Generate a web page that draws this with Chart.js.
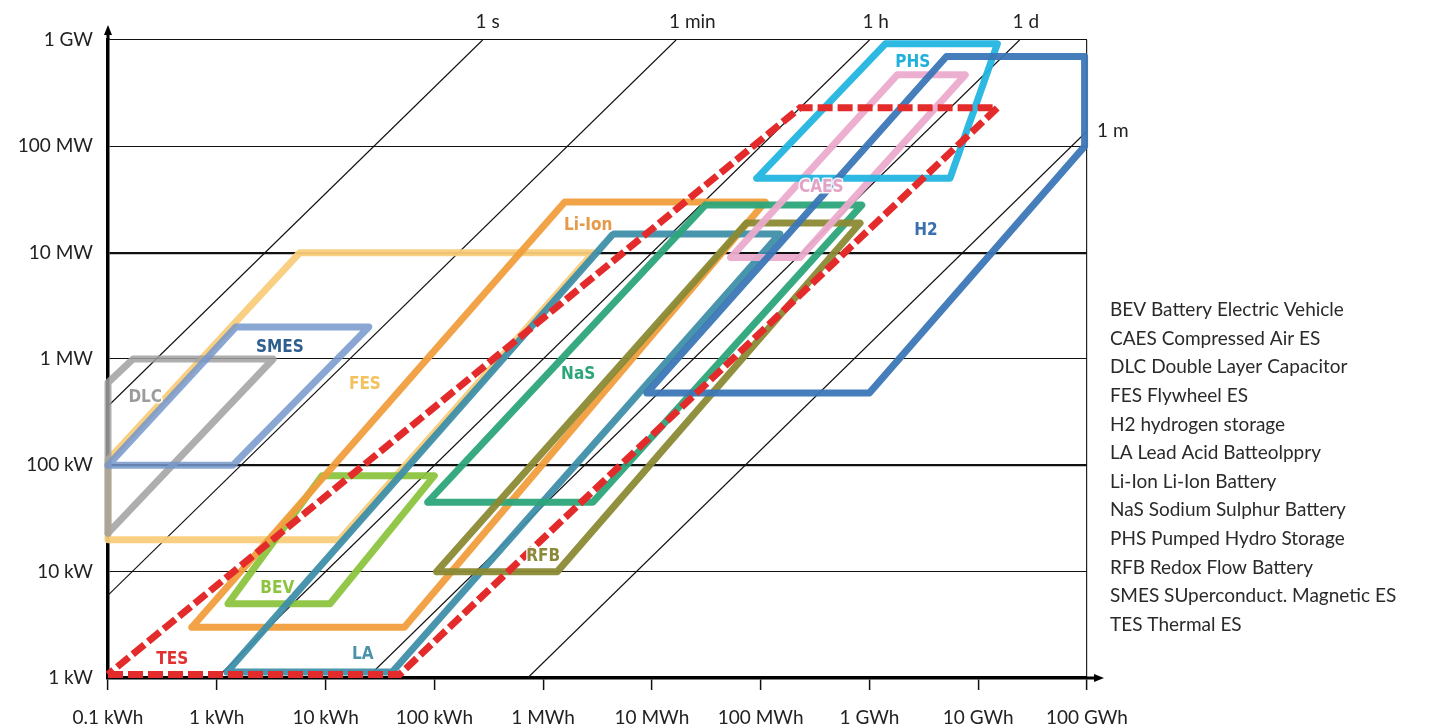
<!DOCTYPE html>
<html>
<head>
<meta charset="utf-8">
<script src="https://cdn.jsdelivr.net/npm/chart.js@4.4.1/dist/chart.umd.min.js"></script>
<style>
  html, body { margin: 0; padding: 0; background: #fff; }
  #wrap { width: 1439px; height: 727px; }
</style>
</head>
<body>
<div id="wrap"><canvas id="chart" width="1439" height="727"></canvas></div>
<script>
// axes (energy in kWh, power in kW)
const xTickValues = [0.1, 1, 10, 1e2, 1e3, 1e4, 1e5, 1e6, 1e7, 1e8];
const xTickLabels = ['0.1 kWh', '1 kWh', '10 kWh', '100 kWh', '1 MWh', '10 MWh', '100 MWh', '1 GWh', '10 GWh', '100 GWh'];
const yTickValues = [1, 10, 100, 1e3, 1e4, 1e5, 1e6];
const yTickLabels = ['1 kW', '10 kW', '100 kW', '1 MW', '10 MW', '100 MW', '1 GW'];

// discharge time lines (hours)
const timeLabels = ['1 s', '1 min', '1 h', '1 d', '1 m'];
const timeHours = [1 / 3600, 1 / 60, 1, 24, 720];

// technology outlines
const dlcEnergy = [0.1, 3.3, 0.17, 0.1];
const dlcPower = [23, 1000, 1000, 600];
const smesEnergy = [0.1, 1.5, 25, 1.4];
const smesPower = [100, 2000, 2000, 100];
const fesEnergy = [0.1, 0.1, 5.8, 2900, 13.5];
const fesPower = [20, 112, 10000, 10000, 20];
const bevEnergy = [1.27, 11, 100, 9.3];
const bevPower = [5, 5, 80, 80];
const liIonEnergy = [0.59, 53, 110000, 1580];
const liIonPower = [3, 3, 30000, 30000];
const laEnergy = [1.24, 41, 150000, 4400];
const laPower = [1.14, 1.14, 15000, 15000];
const tesEnergy = [0.1, 48, 1.5e7, 230000];
const tesPower = [1.08, 1.08, 230000, 230000];
const nasEnergy = [87, 2870, 850000, 31000];
const nasPower = [45, 45, 28000, 28000];
const rfbEnergy = [105, 1350, 820000, 74000];
const rfbPower = [10, 10, 19000, 19000];
const caesEnergy = [53000, 230000, 7.6e6, 1.8e6];
const caesPower = [9000, 9000, 470000, 470000];
const phsEnergy = [92000, 5.5e6, 1.5e7, 1.4e6];
const phsPower = [50000, 50000, 920000, 920000];
const h2Energy = [9000, 1e6, 9.5e7, 9.5e7, 5.1e6];
const h2Power = [480, 480, 100000, 700000, 700000];

// in-plot labels
const techNames = ['DLC', 'SMES', 'FES', 'BEV', 'Li-Ion', 'LA', 'TES', 'NaS', 'RFB', 'CAES', 'PHS', 'H2'];
const labelEnergy = [0.22, 3.8, 23, 3.6, 2600, 22, 0.39, 2100, 1000, 360000, 2.5e6, 3.3e6];
const labelPower = [430, 1270, 570, 7, 18000, 1.65, 1.48, 710, 14, 41000, 610000, 16000];

const legendLines = [
    'BEV Battery Electric Vehicle',
    'CAES Compressed Air ES',
    'DLC Double Layer Capacitor',
    'FES Flywheel ES',
    'H2 hydrogen storage',
    'LA Lead Acid Batteolppry',
    'Li-Ion Li-Ion Battery',
    'NaS Sodium Sulphur Battery',
    'PHS Pumped Hydro Storage',
    'RFB Redox Flow Battery',
    'SMES SUperconduct. Magnetic ES',
    'TES Thermal ES'
];

const colors = {
    'DLC': 'rgba(160,160,160,0.85)',
    'SMES': 'rgba(118,150,203,0.85)',
    'FES': 'rgba(249,205,122,0.95)',
    'BEV': 'rgba(140,196,63,0.95)',
    'Li-Ion': 'rgba(241,158,61,0.95)',
    'LA': 'rgba(63,143,169,0.95)',
    'TES': 'rgba(228,43,43,1)',
    'NaS': 'rgba(44,165,122,0.95)',
    'RFB': 'rgba(138,138,52,0.95)',
    'CAES': 'rgba(235,171,205,0.95)',
    'PHS': 'rgba(34,181,224,0.95)',
    'H2': 'rgba(59,119,183,0.95)'
};
const labelColors = {
    'DLC': '#9c9c9c', 'SMES': '#2f5f8f', 'FES': '#f3c25e', 'BEV': '#8cc43f',
    'Li-Ion': '#e59a48', 'LA': '#4a93a8', 'TES': '#e03030', 'NaS': '#2ca57a',
    'RFB': '#8a8a3a', 'CAES': '#e4a3c6', 'PHS': '#1fb0dc', 'H2': '#3a70ae'
};

const FONT = "Lato, 'Open Sans', sans-serif";
const LABEL_FONT = "bold 17px 'Liberation Sans Narrow', 'DejaVu Sans Condensed', sans-serif";

function outline(name, energy, power, order, extra) {
    const pts = energy.map((e, i) => ({ x: e, y: power[i] }));
    pts.push(pts[0]);
    return Object.assign({
        label: name,
        data: pts,
        showLine: true,
        borderColor: colors[name],
        borderWidth: 7,
        pointRadius: 0,
        tension: 0,
        fill: false,
        borderJoinStyle: 'round',
        borderCapStyle: 'round',
        clip: 10,
        order: order
    }, extra || {});
}

const datasets = [
    outline('TES', tesEnergy, tesPower, 1, { borderDash: [15, 5], borderCapStyle: 'butt', borderJoinStyle: 'miter' }),
    outline('H2', h2Energy, h2Power, 2),
    outline('PHS', phsEnergy, phsPower, 3),
    outline('CAES', caesEnergy, caesPower, 4),
    outline('RFB', rfbEnergy, rfbPower, 5),
    outline('NaS', nasEnergy, nasPower, 6),
    outline('LA', laEnergy, laPower, 7),
    outline('Li-Ion', liIonEnergy, liIonPower, 8),
    outline('BEV', bevEnergy, bevPower, 9),
    outline('SMES', smesEnergy, smesPower, 10),
    outline('DLC', dlcEnergy, dlcPower, 11),
    outline('FES', fesEnergy, fesPower, 12)
];

// constant discharge time: energy = power * time
timeHours.forEach((t, i) => {
    datasets.push({
        label: timeLabels[i],
        data: [{ x: t * yTickValues[0], y: yTickValues[0] }, { x: t * yTickValues[yTickValues.length - 1], y: yTickValues[yTickValues.length - 1] }],
        showLine: true,
        borderColor: '#111',
        borderWidth: 1.2,
        pointRadius: 0,
        order: 20
    });
});

const annotate = {
    id: 'annotate',
    afterDraw(chart) {
        const { ctx, chartArea, scales: { x, y } } = chart;
        ctx.save();

        // axis arrows
        ctx.fillStyle = '#000';
        ctx.strokeStyle = '#000';
        ctx.lineWidth = 3;
        ctx.beginPath();
        ctx.moveTo(chartArea.left, chartArea.top);
        ctx.lineTo(chartArea.left, chartArea.top - 8);
        ctx.moveTo(chartArea.right, chartArea.bottom);
        ctx.lineTo(chartArea.right + 10, chartArea.bottom);
        ctx.stroke();
        ctx.beginPath();
        ctx.moveTo(chartArea.left, chartArea.top - 15);
        ctx.lineTo(chartArea.left - 4, chartArea.top - 5);
        ctx.lineTo(chartArea.left + 4, chartArea.top - 5);
        ctx.closePath();
        ctx.fill();
        ctx.beginPath();
        ctx.moveTo(chartArea.right + 17, chartArea.bottom);
        ctx.lineTo(chartArea.right + 7, chartArea.bottom - 4);
        ctx.lineTo(chartArea.right + 7, chartArea.bottom + 4);
        ctx.closePath();
        ctx.fill();

        // time line labels
        const pMax = yTickValues[yTickValues.length - 1];
        const eMax = xTickValues[xTickValues.length - 1];
        ctx.font = '19px ' + FONT;
        ctx.fillStyle = '#222';
        ctx.textBaseline = 'middle';
        ctx.textAlign = 'left';
        timeHours.forEach((t, i) => {
            const eTop = t * pMax;
            if (eTop <= eMax) {
                ctx.fillText(timeLabels[i], x.getPixelForValue(eTop) - 7, chartArea.top - 18);
            } else {
                ctx.fillText(timeLabels[i], chartArea.right + 10, y.getPixelForValue(eMax / t));
            }
        });

        // technology labels
        ctx.font = LABEL_FONT;
        ctx.textAlign = 'center';
        ctx.lineJoin = 'round';
        techNames.forEach((name, i) => {
            const px = x.getPixelForValue(labelEnergy[i]);
            const py = y.getPixelForValue(labelPower[i]);
            ctx.strokeStyle = 'rgba(255,255,255,0.9)';
            ctx.lineWidth = 3;
            ctx.strokeText(name, px, py);
            ctx.fillStyle = labelColors[name];
            ctx.fillText(name, px, py);
        });

        // legend text
        ctx.font = '19px ' + FONT;
        ctx.fillStyle = '#2a2a2a';
        ctx.textAlign = 'left';
        legendLines.forEach((line, i) => {
            ctx.fillText(line, chartArea.right + 23, 310 + i * 28.6);
        });

        ctx.restore();
    }
};

new Chart(document.getElementById('chart'), {
    type: 'scatter',
    data: { datasets },
    options: {
        responsive: false,
        animation: false,
        devicePixelRatio: 1,
        layout: { padding: { top: 40, right: 352, left: 0, bottom: 0 } },
        plugins: { legend: { display: false }, tooltip: { enabled: false } },
        scales: {
            x: {
                type: 'logarithmic',
                min: xTickValues[0],
                max: xTickValues[xTickValues.length - 1],
                afterBuildTicks: s => { s.ticks = xTickValues.map(v => ({ value: v })); },
                afterFit: s => { s.height = 49; },
                ticks: {
                    callback: (v, i) => xTickLabels[i],
                    font: { family: FONT, size: 19 },
                    color: '#222',
                    maxRotation: 0,
                    autoSkip: false,
                    padding: 16
                },
                grid: {
                    color: c => (c.tick && c.tick.value === xTickValues[xTickValues.length - 1]) ? '#222' : 'rgba(0,0,0,0)',
                    lineWidth: 1.2,
                    tickColor: '#111',
                    tickLength: 12,
                    tickWidth: 1.5
                },
                border: { color: '#000', width: 3.5 }
            },
            y: {
                type: 'logarithmic',
                min: yTickValues[0],
                max: yTickValues[yTickValues.length - 1],
                afterBuildTicks: s => { s.ticks = yTickValues.map(v => ({ value: v })); },
                afterFit: s => { s.width = 108; },
                ticks: {
                    callback: (v, i) => yTickLabels[i],
                    font: { family: FONT, size: 19 },
                    color: '#222',
                    padding: 15
                },
                grid: {
                    color: '#111',
                    lineWidth: c => (c.tick && (c.tick.value === 1e4 || c.tick.value === 100)) ? 2.2 : 1.1,
                    drawTicks: false
                },
                border: { color: '#000', width: 3.5 }
            }
        }
    },
    plugins: [annotate]
});
</script>
</body>
</html>
